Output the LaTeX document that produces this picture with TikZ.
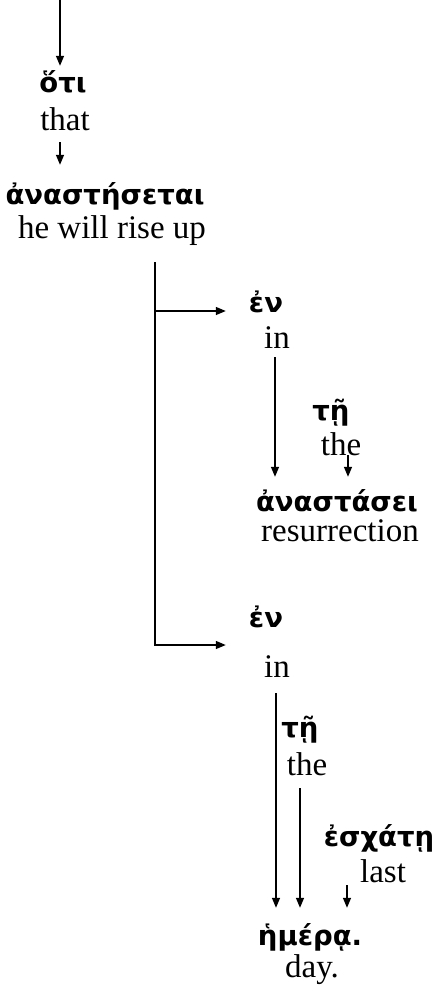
\documentclass[tikz,border=0pt]{standalone}
\usepackage{fontspec}
\setmainfont{Liberation Serif}
\newfontfamily\grk{DejaVu Sans}
\usetikzlibrary{arrows.meta}
\begin{document}
\begin{tikzpicture}[x=1pt,y=-1pt,
  eng/.style={inner sep=0pt,anchor=base,font=\fontsize{33}{40}\selectfont,text height=20pt,text depth=7pt},
  grc/.style={inner sep=0pt,anchor=base,font=\grk\bfseries\fontsize{27.5}{33}\selectfont,text height=28pt,text depth=4pt},
  arr/.style={line width=1.4pt,-{Triangle[length=10pt,width=8pt]}},
  ln/.style={line width=1.4pt}]
\useasboundingbox (0,0) rectangle (436,996);
\node[grc] (oti) at (63,92) {ὅτι};
\node[eng] (that) at (65,130) {that};
\node[grc] (anast) at (105,204) {ἀναστήσεται};
\node[eng] (rise) at (112,238) {he will rise up};
\node[grc] (en1) at (266,312) {ἐν};
\node[eng] (in1) at (277,348) {in};
\node[grc] (te1) at (331,420) {τῇ};
\node[eng] (the1) at (341,455) {the};
\node[grc] (anas) at (337,511) {ἀναστάσει};
\node[eng] (res) at (340,541) {resurrection};
\node[grc] (en2) at (266,627) {ἐν};
\node[eng] (in2) at (277,677) {in};
\node[grc] (te2) at (300,737) {τῇ};
\node[eng] (the2) at (307,775) {the};
\node[grc] (esx) at (379,846) {ἐσχάτῃ};
\node[eng] (last) at (383,882) {last};
\node[grc] (hem) at (310,945) {ἡμέρᾳ.};
\node[eng] (day) at (312,977) {day.};
\coordinate (top) at (60,0);
\coordinate (b1) at (155,311);
\coordinate (b2) at (155,645);
\draw[arr,shorten >=-2pt] (top) -- (oti.north -| top);
\draw[arr,shorten <=5pt,shorten >=11pt] (that.south -| top) -- (anast.north -| top);
\draw[arr,shorten <=17pt,shorten >=23pt] (rise.south -| b1) -- (b2) -- (b2 -| en2.west);
\draw[arr,shorten >=23pt] (b1) -- (b1 -| en1.west);
\draw[arr,shorten <=2pt,shorten >=6pt] (in1.south -| 275,0) -- (anas.north -| 275,0);
\draw[arr,shorten >=6pt] (the1.base -| 348,0) -- (anas.north -| 348,0);
\draw[arr,shorten <=9pt,shorten >=9pt] (in2.south -| 276,0) -- (hem.north -| 276,0);
\draw[arr,shorten <=6pt,shorten >=9pt] (the2.south -| 300,0) -- (hem.north -| 300,0);
\draw[arr,shorten <=3pt,shorten >=9pt] (last.base -| 347,0) -- (hem.north -| 347,0);
\end{tikzpicture}
\end{document}
